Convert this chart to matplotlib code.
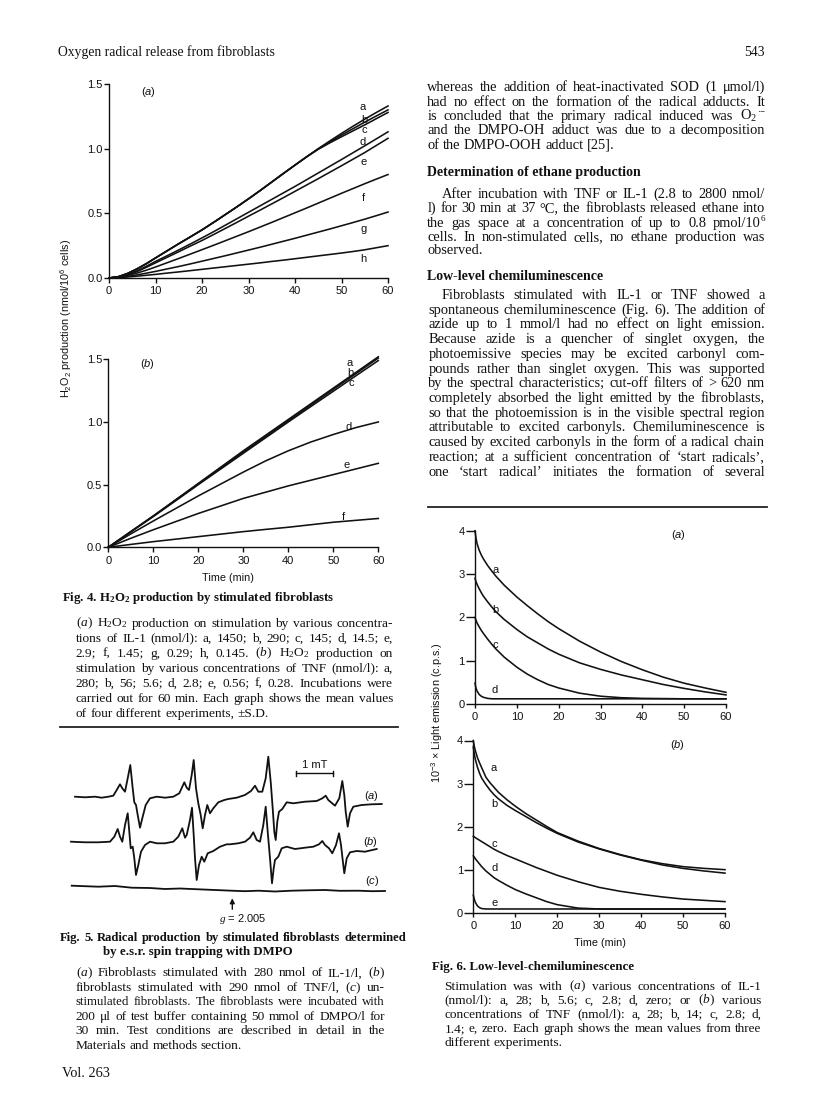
import numpy as np
import matplotlib
matplotlib.use("Agg")
import matplotlib.pyplot as plt
from matplotlib.lines import Line2D

W, H, DPI = 816, 1097, 100
SERIF, SANS = "Liberation Serif", "Liberation Sans"

plt.rcParams.update({
    "font.family": SANS,
    "mathtext.fontset": "custom",
    "mathtext.rm": SERIF,
    "mathtext.it": SERIF + ":italic",
    "mathtext.bf": SERIF + ":bold",
    "mathtext.sf": SANS,
    "mathtext.cal": SANS + ":italic",
    "mathtext.default": "regular",
})

# ---------------- data: Fig. 4 (H2O2 production, nmol/10^6 cells) ----------------
t4a = [0, 2, 4, 6, 8, 10, 12.5, 15, 17.5, 20, 22.5, 25, 27.5, 30, 32.5, 35, 37.5, 40,
       42.5, 45, 47.5, 50, 52.5, 55, 57.5, 60]
h2o2_a = {
    "a": [0, 0.01, 0.035, 0.07, 0.11, 0.155, 0.21, 0.265, 0.318, 0.372, 0.43, 0.49, 0.55, 0.612,
          0.676, 0.742, 0.808, 0.873, 0.937, 1.0, 1.06, 1.118, 1.174, 1.228, 1.28, 1.33],
    "b": [0, 0.01, 0.035, 0.07, 0.11, 0.155, 0.21, 0.265, 0.318, 0.372, 0.43, 0.49, 0.55, 0.612,
          0.676, 0.742, 0.808, 0.873, 0.937, 0.998, 1.052, 1.105, 1.155, 1.205, 1.253, 1.30],
    "c": [0, 0.01, 0.035, 0.07, 0.11, 0.155, 0.21, 0.265, 0.318, 0.372, 0.43, 0.49, 0.55, 0.612,
          0.676, 0.742, 0.808, 0.873, 0.937, 0.995, 1.045, 1.092, 1.138, 1.184, 1.232, 1.28],
    "d": [0, 0.008, 0.028, 0.055, 0.09, 0.128, 0.172, 0.217, 0.263, 0.31, 0.358, 0.408, 0.458,
          0.508, 0.558, 0.608, 0.658, 0.708, 0.76, 0.812, 0.864, 0.916, 0.969, 1.022, 1.076, 1.13],
    "e": [0, 0.007, 0.025, 0.05, 0.082, 0.117, 0.16, 0.203, 0.247, 0.29, 0.336, 0.383, 0.43,
          0.478, 0.525, 0.573, 0.621, 0.67, 0.719, 0.768, 0.818, 0.868, 0.919, 0.97, 1.025, 1.08],
    "f": [0, 0.006, 0.02, 0.038, 0.06, 0.085, 0.118, 0.151, 0.185, 0.219, 0.253, 0.288, 0.323,
          0.358, 0.394, 0.43, 0.467, 0.504, 0.541, 0.579, 0.617, 0.655, 0.692, 0.729, 0.765, 0.80],
    "g": [0, 0.004, 0.012, 0.024, 0.037, 0.051, 0.07, 0.089, 0.109, 0.13, 0.151, 0.172, 0.194,
          0.216, 0.238, 0.261, 0.284, 0.307, 0.331, 0.355, 0.379, 0.404, 0.429, 0.455, 0.482, 0.51],
    "h": [0, 0.003, 0.008, 0.014, 0.021, 0.028, 0.038, 0.047, 0.057, 0.067, 0.077, 0.087, 0.097,
          0.107, 0.117, 0.128, 0.138, 0.149, 0.16, 0.171, 0.182, 0.193, 0.205, 0.218, 0.234, 0.25],
}
lab4a = {"a": (54.5, 1.32), "b": (54.9, 1.22), "c": (54.9, 1.145), "d": (54.6, 1.055),
         "e": (54.8, 0.90), "f": (54.8, 0.62), "g": (54.8, 0.375), "h": (54.8, 0.15)}

t4b = [0, 5, 10, 15, 20, 25, 30, 35, 40, 45, 50, 55, 60]
h2o2_b = {
    "a": [0, 0.125, 0.25, 0.38, 0.51, 0.64, 0.77, 0.895, 1.02, 1.145, 1.27, 1.395, 1.52],
    "b": [0, 0.125, 0.25, 0.378, 0.505, 0.633, 0.76, 0.885, 1.01, 1.135, 1.26, 1.385, 1.51],
    "c": [0, 0.123, 0.245, 0.372, 0.50, 0.625, 0.75, 0.875, 1.0, 1.123, 1.245, 1.368, 1.49],
    "d": [0, 0.107, 0.21, 0.31, 0.41, 0.505, 0.60, 0.69, 0.77, 0.84, 0.90, 0.955, 1.0],
    "e": [0, 0.072, 0.14, 0.205, 0.27, 0.33, 0.39, 0.44, 0.49, 0.535, 0.58, 0.625, 0.67],
    "f": [0, 0.023, 0.045, 0.065, 0.085, 0.105, 0.125, 0.143, 0.16, 0.18, 0.20, 0.215, 0.23],
}
lab4b = {"a": (53.6, 1.47), "b": (53.7, 1.39), "c": (53.9, 1.31), "d": (53.3, 0.96),
         "e": (53.0, 0.66), "f": (52.2, 0.24)}

x4_ticks = [0, 10, 20, 30, 40, 50, 60]
x4_labels = ["0", "10", "20", "30", "40", "50", "60"]
y4_ticks = [0, 0.5, 1.0, 1.5]
y4_labels = ["0.0", "0.5", "1.0", "1.5"]

# ---------------- data: Fig. 6 (10^-3 x light emission, c.p.s.) ----------------
t6a = [0, 0.25, 0.5, 1, 1.5, 2, 3, 4, 5, 7, 10, 12.5, 15, 17.5, 20, 25, 30, 35, 40, 45, 50, 55, 60]
cl_a = {
    "a": [4.0, 3.82, 3.7, 3.55, 3.44, 3.35, 3.2, 3.07, 2.95, 2.74, 2.47, 2.27, 2.08, 1.9, 1.74,
          1.45, 1.2, 0.98, 0.79, 0.62, 0.48, 0.37, 0.27],
    "b": [2.9, 2.82, 2.76, 2.66, 2.57, 2.49, 2.36, 2.24, 2.13, 1.95, 1.72, 1.55, 1.41, 1.27, 1.15,
          0.95, 0.8, 0.67, 0.56, 0.45, 0.36, 0.28, 0.21],
    "c": [2.0, 1.93, 1.87, 1.78, 1.7, 1.63, 1.5, 1.38, 1.27, 1.08, 0.85, 0.69, 0.56, 0.45, 0.37,
          0.25, 0.18, 0.145, 0.13, 0.125, 0.12, 0.12, 0.12],
    "d": [0.48, 0.36, 0.3, 0.22, 0.18, 0.155, 0.13, 0.12, 0.12, 0.12, 0.12, 0.12, 0.12, 0.12, 0.12,
          0.12, 0.12, 0.12, 0.12, 0.12, 0.12, 0.12, 0.12],
}
lab6a = {"a": (4.9, 3.09), "b": (4.9, 2.17), "c": (4.8, 1.36), "d": (4.8, 0.32)}

t6b = [0, 0.25, 0.5, 1, 1.5, 2, 3, 4, 5, 6, 8, 10, 12.5, 15, 17.5, 20, 25, 30, 35, 40, 45, 50, 55, 60]
cl_b = {
    "a": [4.0, 3.86, 3.76, 3.6, 3.48, 3.37, 3.15, 3.02, 2.91, 2.8, 2.63, 2.48, 2.31, 2.16, 2.01,
          1.87, 1.67, 1.5, 1.36, 1.24, 1.15, 1.08, 1.04, 1.01],
    "b": [3.85, 3.68, 3.56, 3.38, 3.24, 3.13, 2.98, 2.85, 2.74, 2.65, 2.5, 2.38, 2.24, 2.1, 1.97,
          1.85, 1.65, 1.49, 1.35, 1.23, 1.12, 1.04, 0.98, 0.93],
    "c": [1.78, 1.77, 1.75, 1.72, 1.69, 1.66, 1.6, 1.54, 1.48, 1.43, 1.34, 1.26, 1.16, 1.06, 0.97,
          0.88, 0.73, 0.6, 0.51, 0.44, 0.38, 0.33, 0.3, 0.27],
    "d": [1.33, 1.3, 1.26, 1.2, 1.14, 1.08, 0.98, 0.9, 0.82, 0.76, 0.65, 0.55, 0.45, 0.36, 0.27,
          0.2, 0.12, 0.1, 0.1, 0.1, 0.1, 0.1, 0.1, 0.1],
    "e": [0.42, 0.32, 0.25, 0.17, 0.13, 0.11, 0.1, 0.1, 0.1, 0.1, 0.1, 0.1, 0.1, 0.1, 0.1, 0.1,
          0.1, 0.1, 0.1, 0.1, 0.1, 0.1, 0.1, 0.1],
}
lab6b = {"a": (4.8, 3.37), "b": (5.0, 2.54), "c": (5.0, 1.6), "d": (5.0, 1.05), "e": (5.2, 0.25)}

x6_ticks = [0, 10, 20, 30, 40, 50, 60]
x6_labels = ["0", "10", "20", "30", "40", "50", "60"]
y6_ticks = [0, 1, 2, 3, 4]
y6_labels = ["0", "1", "2", "3", "4"]

# ---------------- data: Fig. 5 (e.s.r. traces, field vs signal readings) ----------------
esr_a = [(75, 796.7), (85, 797.3), (95, 796.7), (101.7, 797.7), (108.3, 796.7), (113.3, 795.7),
         (116.7, 790), (120, 784.3), (122.3, 788.3), (125, 791.7), (127.7, 778.3), (130.3, 765),
         (132.7, 788.3), (134.3, 802.3), (136, 805), (137.7, 815), (140, 827.7), (142.7, 816.7),
         (145.7, 805), (150, 798.3), (156.7, 796.7), (165, 797.7), (173.3, 796.7), (179.3, 793.3),
         (182.3, 786.7), (184.3, 782.3), (186.7, 787.7), (189, 790), (191.7, 775), (193.7, 760),
         (196, 788.3), (198.3, 803.3), (200.7, 815), (202.7, 828.3), (205, 815), (207.3, 805),
         (210, 813.3), (213.3, 808.3), (218.3, 802.3), (224.3, 800), (228.3, 799), (236.7, 797.7),
         (245, 795), (251, 791), (255, 785.7), (258.3, 791.7), (262.3, 791.7), (265.7, 778.3),
         (268.3, 756.7), (270.7, 781.7), (272.7, 808.3), (274.3, 831.7), (275.7, 840), (277.3, 821.7),
         (279, 811.7), (282.3, 809), (286.7, 802.3), (293.3, 803.3), (305, 801.7), (316.7, 801),
         (322.3, 798.3), (325.7, 795.7), (328.3, 800), (335, 805.7), (339.3, 798.3), (342.3, 781),
         (344.3, 795), (345.7, 811.7), (347.7, 826.7), (350, 813.3), (353.3, 806.7), (361.7, 805),
         (371.7, 804.3), (381.7, 804)]
esr_b = [(71, 841.7), (85, 842.3), (98.3, 842.3), (110, 841.7), (114.3, 836.7), (117.7, 829),
         (120, 836.7), (122.3, 841.7), (125, 825), (127.7, 813.3), (129.3, 831.7), (130.7, 848.3),
         (132.7, 846.7), (134.3, 858.3), (136, 875), (138.3, 865), (141, 851.7), (145, 845),
         (150, 841.7), (156.7, 843.3), (165, 843.3), (173.3, 841.7), (178.3, 836.7), (182.3, 828.3),
         (185, 837.7), (186.7, 835), (190, 820), (192, 807.7), (193.7, 835), (195, 858.3),
         (196.7, 880), (199, 865), (201.7, 856.7), (204.3, 861.7), (207.7, 853.3), (213.3, 851),
         (220, 846.7), (226.7, 844.3), (230, 844.3), (238.3, 843.3), (245, 841.7), (250, 837.7),
         (253.3, 832.3), (256.7, 840), (260, 841.7), (263.3, 825), (265.7, 806.7), (267.7, 831.7),
         (270, 858.3), (272, 883.3), (273.7, 868.3), (275, 860), (278.3, 856.7), (281.7, 848.3),
         (286.7, 846.7), (295, 849), (305, 847.7), (313.3, 846.7), (319, 844.3), (322.3, 841),
         (325, 845), (329, 848.3), (332.3, 853.3), (336, 845), (339, 833.3), (341, 845),
         (342.7, 860), (344.3, 873.3), (346.7, 858.3), (350, 852.3), (356.7, 851), (365, 851.7),
         (376.7, 849)]
esr_c = [(71.7, 885.7), (98.3, 886.7), (115, 886), (131.7, 887.7), (150, 888), (165, 889),
         (180, 888.5), (198.3, 889.3), (215, 890), (231.7, 890.7), (245, 891.2), (258.3, 890.7),
         (275, 891.5), (291.7, 890.7), (308, 890.3), (325, 890), (340, 890.8), (358.3, 890.7),
         (372, 891.2), (385, 891)]
esr_labels = [("a", 371, 796), ("b", 370, 842), ("c", 372, 881)]

# ---------------- text ('^' in a word marks a small raised suffix) ----------------
para1 = ["whereas the addition of heat-inactivated SOD (1 μmol/l)",
         "had no effect on the formation of the radical adducts. It",
         "is concluded that the primary radical induced was O$_2$^·−",
         "and the DMPO-OH adduct was due to a decomposition",
         "of the DMPO-OOH adduct [25]."]
para1_y = [87.3, 101.7, 116, 130.3, 144.7]
para2 = ["After incubation with TNF or IL-1 (2.8 to 2800 nmol/",
         "l) for 30 min at 37 °C, the fibroblasts released ethane into",
         "the gas space at a concentration of up to 0.8 pmol/10^6",
         "cells. In non-stimulated cells, no ethane production was",
         "observed."]
para2_y = [194, 208.3, 222.7, 236.7, 250]
para3 = ["Fibroblasts stimulated with IL-1 or TNF showed a",
         "spontaneous chemiluminescence (Fig. 6). The addition of",
         "azide up to 1 mmol/l had no effect on light emission.",
         "Because azide is a quencher of singlet oxygen, the",
         "photoemissive species may be excited carbonyl com-",
         "pounds rather than singlet oxygen. This was supported",
         "by the spectral characteristics; cut-off filters of > 620 nm",
         "completely absorbed the light emitted by the fibroblasts,",
         "so that the photoemission is in the visible spectral region",
         "attributable to excited carbonyls. Chemiluminescence is",
         "caused by excited carbonyls in the form of a radical chain",
         "reaction; at a sufficient concentration of ‘start radicals’,",
         "one ‘start radical’ initiates the formation of several"]
para3_y = [295, 310, 324.3, 339.3, 354, 369, 383.3, 398.3, 412.7, 427.3, 442.3, 457.3, 472.3]

cap4 = [r"($\mathit{a}$) H$_2$O$_2$ production on stimulation by various concentra-",
        "tions of IL-1 (nmol/l): a, 1450; b, 290; c, 145; d, 14.5; e,",
        r"2.9; f, 1.45; g, 0.29; h, 0.145. ($\mathit{b}$) H$_2$O$_2$ production on",
        "stimulation by various concentrations of TNF (nmol/l): a,",
        "280; b, 56; 5.6; d, 2.8; e, 0.56; f, 0.28. Incubations were",
        "carried out for 60 min. Each graph shows the mean values",
        "of four different experiments, ±S.D."]
cap4_y = [623, 638, 653, 668, 683, 698, 713]
cap5 = [r"($\mathit{a}$) Fibroblasts stimulated with 280 nmol of IL-1/l, ($\mathit{b}$)",
        r"fibroblasts stimulated with 290 nmol of TNF/l, ($\mathit{c}$) un-",
        "stimulated fibroblasts. The fibroblasts were incubated with",
        "200 μl of test buffer containing 50 mmol of DMPO/l for",
        "30 min. Test conditions are described in detail in the",
        "Materials and methods section."]
cap5_y = [972.7, 987.3, 1001.7, 1016, 1030.7, 1045]
cap6 = [r"Stimulation was with ($\mathit{a}$) various concentrations of IL-1",
        r"(nmol/l): a, 28; b, 5.6; c, 2.8; d, zero; or ($\mathit{b}$) various",
        "concentrations of TNF (nmol/l): a, 28; b, 14; c, 2.8; d,",
        "1.4; e, zero. Each graph shows the mean values from three",
        "different experiments."]
cap6_y = [986, 1000, 1014, 1028.3, 1042.3]

# ---------------- figure ----------------
fig = plt.figure(figsize=(W / DPI, H / DPI), dpi=DPI)
fig.patch.set_facecolor("white")
renderer = fig.canvas.get_renderer()
INK = "#111111"
SUP = 0.62


def measure(s, size, weight="normal", family=SERIF):
    t = fig.text(0, 0, s, fontsize=size, family=family, weight=weight)
    w = t.get_window_extent(renderer).width
    t.remove()
    return w


def word_width(w, size, weight, family):
    if "^" in w:
        base, sup = w.split("^", 1)
        return measure(base, size, weight, family) + measure(sup, size * SUP, weight, family)
    return measure(w, size, weight, family)


def draw_word(w, x, y, size, weight, family):
    if "^" in w:
        base, sup = w.split("^", 1)
        fig.text(x / W, 1 - y / H, base, fontsize=size, family=family, weight=weight,
                 ha="left", va="baseline", color=INK)
        xb = x + measure(base, size, weight, family)
        ys = y - 0.42 * size * DPI / 72.0
        fig.text(xb / W, 1 - ys / H, sup, fontsize=size * SUP, family=family, weight=weight,
                 ha="left", va="baseline", color=INK)
    else:
        fig.text(x / W, 1 - y / H, w, fontsize=size, family=family, weight=weight,
                 ha="left", va="baseline", color=INK)


def put_line(s, x0, x1, y, size, weight="normal", justify=True, family=SERIF):
    words = s.split(" ")
    widths = [word_width(w, size, weight, family) for w in words]
    n = len(words)
    min_gap = 0.3 * size * DPI / 72.0
    if justify and n > 1 and sum(widths) + (n - 1) * min_gap > (x1 - x0):
        size = size * ((x1 - x0) - (n - 1) * min_gap) / sum(widths)
        widths = [word_width(w, size, weight, family) for w in words]
    if justify and n > 1:
        gap = (x1 - x0 - sum(widths)) / (n - 1)
    else:
        gap = measure("a a", size, weight, family) - measure("aa", size, weight, family)
    x = x0
    for w, wd in zip(words, widths):
        draw_word(w, x, y, size, weight, family)
        x += wd + gap


def put_para(lines, ys, x0, x1, size, indent=None, off=4.0, last_justify=False):
    for i, (s, y) in enumerate(zip(lines, ys)):
        left = indent if (indent is not None and i == 0) else x0
        last = (i == len(lines) - 1) and not last_justify
        put_line(s, left, x1, y + off, size, justify=not last)


def ftext(x, y, s, **kw):
    kw.setdefault("color", INK)
    return fig.text(x / W, 1 - y / H, s, **kw)


def add_axes_px(x0, x1, ytop, ybot):
    return fig.add_axes([x0 / W, 1 - ybot / H, (x1 - x0) / W, (ybot - ytop) / H])


def style_axes(ax, xlim, ylim, xt, xl, yt, yl, xlen, ylen):
    ax.set_xlim(*xlim)
    ax.set_ylim(*ylim)
    ax.patch.set_alpha(0)
    for s in ("top", "right"):
        ax.spines[s].set_visible(False)
    for s in ("left", "bottom"):
        ax.spines[s].set_linewidth(1.0)
        ax.spines[s].set_color(INK)
    ax.set_xticks(xt)
    ax.set_xticklabels(xl, fontsize=8, family=SANS)
    ax.set_yticks(yt)
    ax.set_yticklabels(yl, fontsize=8, family=SANS)
    ax.tick_params(axis="x", direction="out", length=xlen, width=1.0, pad=2.5, colors=INK)
    ax.tick_params(axis="y", direction="out", length=ylen, width=1.0, pad=1.0, colors=INK)


def draw_curves(ax, t, series, labels):
    for k, v in series.items():
        ax.plot(t, v, color=INK, lw=1.15, clip_on=False, solid_joinstyle="round")
        lx, ly = labels[k]
        ax.text(lx, ly, k, fontsize=8, ha="center", va="center", family=SANS, color=INK)


def panel_tag(letter):
    return "($\\mathcal{" + letter + "}$)"


# Fig. 4 (a)
ax4a = add_axes_px(109, 388, 84, 278)
style_axes(ax4a, (0, 60), (0, 1.5), x4_ticks, x4_labels, y4_ticks, y4_labels, 3.6, 3.4)
draw_curves(ax4a, t4a, h2o2_a, lab4a)
ax4a.text(8.4, 1.44, panel_tag("a"), fontsize=8, ha="center", va="center", color=INK)

# Fig. 4 (b)
ax4b = add_axes_px(108.3, 378.3, 359.3, 547.3)
style_axes(ax4b, (0, 60), (0, 1.5), x4_ticks, x4_labels, y4_ticks, y4_labels, 3.6, 3.4)
draw_curves(ax4b, t4b, h2o2_b, lab4b)
ax4b.text(8.8, 1.46, panel_tag("b"), fontsize=8, ha="center", va="center", color=INK)

ftext(66, 318.5, r"H$_2$O$_2$ production (nmol/10$^6$ cells)", rotation=90,
      fontsize=7.8, ha="center", va="center", family=SANS)
ftext(228, 578, "Time (min)", fontsize=7.8, ha="center", va="center", family=SANS)

# Fig. 6 (a)
ax6a = add_axes_px(475, 726, 530.7, 704)
style_axes(ax6a, (0, 60), (0, 4), x6_ticks, x6_labels, y6_ticks, y6_labels, 3.2, 6.5)
draw_curves(ax6a, t6a, cl_a, lab6a)
ax6a.text(48.6, 3.9, panel_tag("a"), fontsize=8, ha="center", va="center", color=INK)

# Fig. 6 (b)
ax6b = add_axes_px(473.3, 725, 740.5, 913.3)
style_axes(ax6b, (0, 60), (0, 4), x6_ticks, x6_labels, y6_ticks, y6_labels, 3.2, 6.5)
draw_curves(ax6b, t6b, cl_b, lab6b)
ax6b.text(48.6, 3.89, panel_tag("b"), fontsize=8, ha="center", va="center", color=INK)

ftext(437, 713, r"10$^{-3}$ × Light emission (c.p.s.)", rotation=90,
      fontsize=7.8, ha="center", va="center", family=SANS)
ftext(600, 943, "Time (min)", fontsize=7.8, ha="center", va="center", family=SANS)

# Fig. 5 e.s.r. spectra
ax5 = add_axes_px(60, 400, 740, 925)
ax5.set_xlim(60, 400)
ax5.set_ylim(925, 740)
ax5.axis("off")
for tr in (esr_a, esr_b, esr_c):
    arr = np.array(tr)
    ax5.plot(arr[:, 0], arr[:, 1], color=INK, lw=1.3, solid_joinstyle="round")
for letter, x, y in esr_labels:
    ax5.text(x, y, panel_tag(letter), fontsize=8, ha="center", va="center", color=INK)
ax5.plot([296, 332.7], [773.3, 773.3], color=INK, lw=1.0)
ax5.plot([296, 296], [771, 775.6], color=INK, lw=1.0)
ax5.plot([332.7, 332.7], [771, 775.6], color=INK, lw=1.0)
ax5.text(314.3, 765, "1 mT", fontsize=8, ha="center", va="center", color=INK)
ax5.annotate("", xy=(232.3, 895.5), xytext=(232.3, 912),
             arrowprops=dict(arrowstyle="-|>", lw=1.0, color=INK, mutation_scale=7))
ax5.text(243, 919.5, r"$\mathit{g}$ = 2.005", fontsize=8, ha="center", va="center", color=INK)

# rules
fig.add_artist(Line2D([60 / W, 398 / W], [1 - 727 / H, 1 - 727 / H], lw=1.3, color="#222222"))
fig.add_artist(Line2D([428 / W, 767 / W], [1 - 507.3 / H, 1 - 507.3 / H], lw=1.3, color="#222222"))

# header
ftext(58, 56, "Oxygen radical release from fibroblasts", fontsize=9.8, family=SERIF, va="baseline")
ftext(765, 56, "543", fontsize=9.8, family=SERIF, va="baseline", ha="right")

# right column body
put_para(para1, para1_y, 427.3, 765, 10.4)
ftext(427.3, 175.7, "Determination of ethane production", fontsize=10, family=SERIF,
      weight="bold", va="baseline")
put_para(para2, para2_y, 427.3, 765, 10.4, indent=441.7)
ftext(427.3, 280, "Low-level chemiluminescence", fontsize=10, family=SERIF,
      weight="bold", va="baseline")
put_para(para3, para3_y, 428.3, 765, 10.4, indent=441.7, last_justify=True)

# Fig. 4 caption
ftext(61.7, 600.7, r"Fig. 4. H$_2$O$_2$ production by stimulated fibroblasts", fontsize=9.3,
      family=SERIF, weight="bold", va="baseline")
put_para(cap4, cap4_y, 75.7, 393, 9.6, off=3.7)

# Fig. 5 caption
put_line("Fig. 5. Radical production by stimulated fibroblasts determined", 60, 406, 941, 9.3,
         weight="bold")
ftext(103, 955.4, "by e.s.r. spin trapping with DMPO", fontsize=9.3, family=SERIF,
      weight="bold", va="baseline")
put_para(cap5, cap5_y, 75.7, 385, 9.6, off=3.7)
ftext(62, 1077.3, "Vol. 263", fontsize=10.3, family=SERIF, va="baseline")

# Fig. 6 caption
ftext(431.7, 969.7, "Fig. 6. Low-level-chemiluminescence", fontsize=9.3, family=SERIF,
      weight="bold", va="baseline")
put_para(cap6, cap6_y, 444.3, 761.7, 9.6, off=3.7)

fig.savefig("out.png", dpi=DPI, facecolor="white")
